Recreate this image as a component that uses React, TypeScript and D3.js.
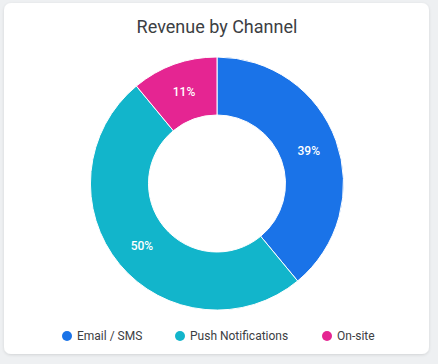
import React from "react";
import * as d3 from "d3";

const channels = ["Email / SMS", "Push Notifications", "On-site"];
const shares = [39, 50, 11];
const colors = ["#1a73e8", "#12b5cb", "#e52592"];

const W = 438;
const H = 364;

export default function App() {
  const cx = 217;
  const cy = 183.5;
  const outer = 126.5;
  const inner = 68.5;

  const data = channels.map((name, i) => ({ name, value: shares[i], color: colors[i] }));

  const pie = d3
    .pie<{ name: string; value: number; color: string }>()
    .sort(null)
    .value((d) => d.value);

  const arc = d3
    .arc<d3.PieArcDatum<{ name: string; value: number; color: string }>>()
    .innerRadius(inner)
    .outerRadius(outer);

  const arcs = pie(data);
  const total = d3.sum(shares);

  // legend positions
  const legendX = [67, 180, 327];

  return (
    <div style={{ position: "fixed", left: 0, top: 0, width: W, height: H, background: "#eef0f2" }}>
      <svg width={W} height={H} style={{ display: "block" }}>
        <defs>
          <filter id="shadow" x="-5%" y="-5%" width="110%" height="110%">
            <feDropShadow dx="0" dy="1" stdDeviation="1.5" floodColor="#000" floodOpacity="0.12" />
          </filter>
        </defs>
        <rect x={4} y={3} width={425} height={351} rx={7} fill="#fff" filter="url(#shadow)" />
        <text
          x={cx}
          y={33}
          textAnchor="middle"
          fontFamily="Roboto, sans-serif"
          fontSize={18}
          fill="#3c4043"
        >
          Revenue by Channel
        </text>
        <g transform={`translate(${cx},${cy})`}>
          {arcs.map((a) => (
            <path key={a.data.name} d={arc(a) || ""} fill={a.data.color} stroke="#fff" strokeWidth={1} />
          ))}
          {arcs.map((a) => {
            const [x, y] = arc.centroid(a);
            return (
              <text
                key={a.data.name + "-l"}
                x={x}
                y={y}
                dy="0.35em"
                textAnchor="middle"
                fontFamily="Roboto, sans-serif"
                fontSize={12}
                fontWeight={500}
                fill="#fff"
              >
                {Math.round((a.data.value / total) * 100)}%
              </text>
            );
          })}
        </g>
        <g fontFamily="Roboto, sans-serif" fontSize={12} fill="#3c4043">
          {data.map((d, i) => (
            <g key={d.name} transform={`translate(${legendX[i]},336)`}>
              <circle r={5} fill={d.color} />
              <text x={10} dy="0.35em">
                {d.name}
              </text>
            </g>
          ))}
        </g>
      </svg>
    </div>
  );
}
